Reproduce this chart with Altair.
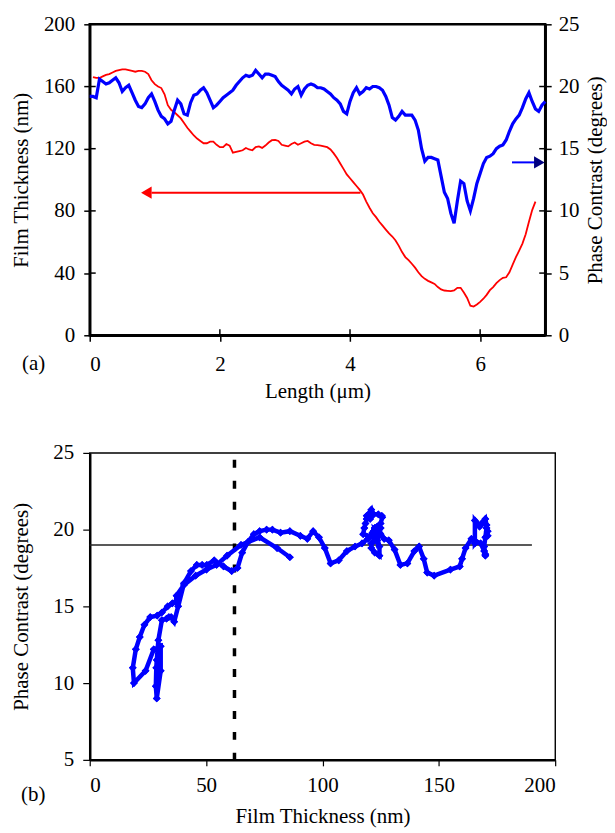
import altair as alt
import pandas as pd

FONT = "Liberation Serif"

# ---------------- data ----------------
length_um = [
    0.00,
    0.05, 0.10, 0.15, 0.20, 0.25, 0.30, 0.35, 0.40, 0.45, 0.50,
    0.55, 0.60, 0.65, 0.70, 0.75, 0.80, 0.85, 0.90, 0.95, 1.00,
    1.05, 1.10, 1.15, 1.20, 1.25, 1.30, 1.35, 1.40, 1.45, 1.50,
    1.55, 1.60, 1.65, 1.70, 1.75, 1.80, 1.85, 1.90, 1.95, 2.00,
    2.05, 2.10, 2.15, 2.20, 2.25, 2.30, 2.35, 2.40, 2.45, 2.50,
    2.55, 2.60, 2.65, 2.70, 2.75, 2.80, 2.85, 2.90, 2.95, 3.00,
    3.05, 3.10, 3.15, 3.20, 3.25, 3.30, 3.35, 3.40, 3.45, 3.50,
    3.55, 3.60, 3.65, 3.70, 3.75, 3.80, 3.85, 3.90, 3.95, 4.00,
    4.05, 4.10, 4.15, 4.20, 4.25, 4.30, 4.35, 4.40, 4.45, 4.50,
    4.55, 4.60, 4.65, 4.70, 4.75, 4.80, 4.85, 4.90, 4.95, 5.00,
    5.05, 5.10, 5.15, 5.20, 5.25, 5.30, 5.35, 5.40, 5.45, 5.50,
    5.55, 5.60, 5.65, 5.70, 5.75, 5.80, 5.85, 5.90, 5.95, 6.00,
    6.05, 6.10, 6.15, 6.20, 6.25, 6.30, 6.35, 6.40, 6.45, 6.50,
    6.55, 6.60, 6.65, 6.70, 6.75, 6.80, 6.85, 6.90, 6.95, 7.00,
]

thickness_nm = [
    None,
    166, 165.5, 165.5, 166.5, 167.5, 168, 169, 170, 170.5, 171,
    171, 170.5, 170, 169.5, 170, 170, 169.5, 168, 164, 161.5,
    160, 159, 155, 148, 145, 143.5, 141.5, 139.5, 136.5, 133.5,
    131, 128.5, 126.5, 125, 123.5, 123.5, 124.5, 124.5, 122.5, 121,
    121, 123, 122, 117.5, 118, 118.5, 119, 120.5, 119.5, 119,
    121, 121.5, 120.5, 122, 124, 125.5, 125.7, 125, 122.5, 122,
    121.5, 123, 124, 122.5, 123.5, 124.5, 125, 123.5, 122.5, 122.3,
    122, 121.5, 121, 119.5, 117, 114, 110.5, 107, 103.5, 101,
    98.5, 96, 93.5, 90.5, 86, 82, 78.5, 76, 73, 70.5,
    68, 65.5, 63.5, 61, 57.5, 53.5, 50.3, 48.3, 46, 43.5,
    40.5, 38, 36.3, 35, 34, 33, 31, 29.5, 28.8, 28.6,
    28.4, 28.8, 30.5, 30.5, 27.5, 24, 19, 18.5, 19.8, 21.5,
    23.5, 26, 29, 31, 33.5, 35.5, 37, 37.3, 40.5, 45.5,
    50.2, 54.5, 59, 65, 73, 80.5, 86, None, None, None,
]

phase_deg = [
    19.2,
    19.2, 19.1, 20.6, 20.4, 20.2, 20.3, 20.5, 20.7, 20.3, 19.6,
    19.9, 20.1, 19.5, 18.9, 18.4, 18.3, 18.6, 19.1, 19.4, 18.8,
    18.1, 17.6, 17.4, 17.0, 17.2, 18.1, 18.9, 18.6, 17.8, 17.7,
    18.7, 19.3, 19.4, 19.7, 19.9, 19.5, 18.9, 18.3, 18.5, 18.8,
    19.1, 19.3, 19.5, 19.7, 20.1, 20.4, 20.7, 20.9, 20.8, 20.9,
    21.3, 21.0, 20.7, 21.0, 21.0, 20.9, 20.8, 20.4, 20.1, 19.9,
    19.7, 19.4, 19.8, 20.0, 19.3, 19.8, 20.1, 20.2, 20.1, 19.9,
    19.9, 19.8, 19.6, 19.4, 19.1, 18.9, 18.6, 18.0, 17.8, 18.8,
    19.5, 19.9, 19.4, 19.6, 19.9, 19.8, 20.0, 20.0, 19.9, 19.7,
    19.2, 18.5, 17.5, 17.3, 17.6, 18.0, 17.7, 17.7, 17.7, 17.3,
    16.5, 15.0, 14.0, 14.3, 14.3, 14.2, 14.1, 12.8, 11.5, 11.0,
    9.8, 9.0, 10.8, 12.4, 12.2, 10.8, 10.0, 11.0, 12.2, 13.0,
    13.8, 14.3, 14.4, 14.6, 15.0, 15.2, 15.3, 15.7, 16.4, 17.0,
    17.4, 17.7, 18.3, 19.0, 19.5, 18.8, 18.2, 18.0, 18.5, 18.8,
]

# tick values
top_x_ticks = [0, 2, 4, 6]
top_left_ticks = [0, 40, 80, 120, 160, 200]
top_right_ticks = [0, 5, 10, 15, 20, 25]
bot_x_ticks = [0, 50, 100, 150, 200]
bot_y_ticks = [5, 10, 15, 20, 25]

# annotations
red_arrow = {"x_from": [4.16], "x_to": [0.95], "head": [0.87], "y": [91.7]}
blue_arrow = {"x_from": [6.49], "x_to": [6.85], "head": [6.91], "y": [13.9]}
ref_hline = {"x": [0], "x2": [190], "y": [19]}
ref_vline = {"x": [62.2], "y": [24.55], "y2": [5]}

# ---------------- chart ----------------
W1, H1 = 457, 312
W2, H2 = 467, 308
FS = 21

df = pd.DataFrame({"length": length_um, "thickness": thickness_nm, "phase": phase_deg})

xs_top = alt.Scale(domain=[0, 7], nice=False)
ys_left = alt.Scale(domain=[0, 200], nice=False)
ys_right = alt.Scale(domain=[0, 25], nice=False)

axis_common = dict(
    labelFont=FONT, titleFont=FONT, labelFontSize=FS, titleFontSize=FS,
    labelColor="black", titleColor="black", titleFontWeight="normal",
    domainColor="black", tickColor="black", grid=False, format="d",
)

red_line = alt.Chart(df).mark_line(color="#FF0000", strokeWidth=1.8).encode(
    x=alt.X("length:Q", scale=xs_top,
            axis=alt.Axis(values=top_x_ticks, title="Length (μm)", tickSize=6,
                          tickWidth=1.5, domainWidth=2.5, labelPadding=12,
                          titlePadding=6, **axis_common)),
    y=alt.Y("thickness:Q", scale=ys_left,
            axis=alt.Axis(orient="left", values=top_left_ticks, title="Film Thickness (nm)",
                          tickSize=6, tickWidth=1.5, domainWidth=2.5, labelPadding=9,
                          titlePadding=12, **axis_common)),
)

blue_line = alt.Chart(df).mark_line(color="#0000FF", strokeWidth=3.2).encode(
    x=alt.X("length:Q", scale=xs_top),
    y=alt.Y("phase:Q", scale=ys_right,
            axis=alt.Axis(orient="right", values=top_right_ticks,
                          title="Phase Contrast (degrees)", titleAngle=270,
                          titleBaseline="top", tickSize=6, tickWidth=1.5,
                          domainWidth=2.5, labelPadding=7, titlePadding=5,
                          **axis_common)),
)

# inner halves of the crossing ticks
xt_df = pd.DataFrame({"v": top_x_ticks})
yt_df = pd.DataFrame({"v": top_left_ticks})
inner_x = alt.Chart(xt_df).mark_rule(color="black", strokeWidth=1.5).encode(
    x=alt.X("v:Q", scale=xs_top), y=alt.value(H1), y2=alt.value(H1 - 6))
inner_l = alt.Chart(yt_df).mark_rule(color="black", strokeWidth=1.5).encode(
    y=alt.Y("v:Q", scale=ys_left, axis=None), x=alt.value(0), x2=alt.value(6))
inner_r = alt.Chart(yt_df).mark_rule(color="black", strokeWidth=1.5).encode(
    y=alt.Y("v:Q", scale=ys_left, axis=None), x=alt.value(W1 - 6), x2=alt.value(W1))

ra = pd.DataFrame(red_arrow)
red_shaft = alt.Chart(ra).mark_rule(color="#FF0000", strokeWidth=2).encode(
    x=alt.X("x_from:Q", scale=xs_top), x2="x_to:Q",
    y=alt.Y("y:Q", scale=ys_left, axis=None))
red_head = alt.Chart(ra).mark_point(shape="triangle-left", filled=True, size=150,
                                    color="#FF0000", opacity=1).encode(
    x=alt.X("head:Q", scale=xs_top),
    y=alt.Y("y:Q", scale=ys_left, axis=None))

ba = pd.DataFrame(blue_arrow)
blue_shaft = alt.Chart(ba).mark_rule(color="#0000FF", strokeWidth=2).encode(
    x=alt.X("x_from:Q", scale=xs_top), x2="x_to:Q",
    y=alt.Y("y:Q", scale=ys_right, axis=None))
blue_head = alt.Chart(ba).mark_point(shape="triangle-right", filled=True, size=150,
                                     color="#000080", opacity=1).encode(
    x=alt.X("head:Q", scale=xs_top),
    y=alt.Y("y:Q", scale=ys_right, axis=None))

label_a = alt.Chart(pd.DataFrame({"t": ["(a)"]})).mark_text(
    font=FONT, fontSize=FS, align="left", baseline="middle", color="black").encode(
    text="t:N", x=alt.value(-68), y=alt.value(H1 + 29))

top = alt.layer(
    red_line, blue_line, inner_x, inner_l, inner_r,
    red_shaft, red_head, blue_shaft, blue_head, label_a,
).resolve_scale(y="independent").properties(
    width=W1, height=H1,
    view=alt.ViewBackground(stroke="black", strokeWidth=2.5),
)

# ---------------- bottom panel ----------------
xs_bot = alt.Scale(domain=[0, 200], nice=False)
ys_bot = alt.Scale(domain=[5, 25], nice=False)

x_bot = alt.X("thickness:Q", scale=xs_bot,
              axis=alt.Axis(values=bot_x_ticks, title="Film Thickness (nm)", tickSize=6,
                            tickWidth=1.2, domainWidth=2.5, labelPadding=9,
                            titlePadding=10, **axis_common))
y_bot = alt.Y("phase:Q", scale=ys_bot,
              axis=alt.Axis(values=bot_y_ticks, title="Phase Contrast (degrees)",
                            tickSize=7, tickWidth=1.2, domainWidth=2.5, labelPadding=9,
                            titlePadding=21, **axis_common))

pts = alt.Chart(df).mark_point(shape="diamond", filled=True, size=60,
                               color="#0000FF", opacity=1).encode(x=x_bot, y=y_bot)
trail = alt.Chart(df).mark_line(color="#0000FF", strokeWidth=4.5).encode(
    x=alt.X("thickness:Q", scale=xs_bot), y=alt.Y("phase:Q", scale=ys_bot),
    order="length:Q")

hl = alt.Chart(pd.DataFrame(ref_hline)).mark_rule(color="#222222", strokeWidth=1.6).encode(
    x=alt.X("x:Q", scale=xs_bot), x2="x2:Q",
    y=alt.Y("y:Q", scale=ys_bot))
vl = alt.Chart(pd.DataFrame(ref_vline)).mark_rule(color="black", strokeWidth=3.5,
                                                  strokeDash=[8, 13]).encode(
    x=alt.X("x:Q", scale=xs_bot),
    y=alt.Y("y:Q", scale=ys_bot), y2="y2:Q")

label_b = alt.Chart(pd.DataFrame({"t": ["(b)"]})).mark_text(
    font=FONT, fontSize=FS, align="left", baseline="middle", color="black").encode(
    text="t:N", x=alt.value(-69), y=alt.value(H2 + 35))

bottom = alt.layer(pts, hl, vl, trail, pts, label_b).properties(
    width=W2, height=H2,
    view=alt.ViewBackground(stroke="black", strokeWidth=1.4),
)

chart = alt.vconcat(top, bottom, spacing=38).properties(
    padding={"left": 1, "top": 2, "right": 0, "bottom": 0},
    background="white",
)

chart.save("out.html", embed_options={"renderer": "svg", "actions": False})
